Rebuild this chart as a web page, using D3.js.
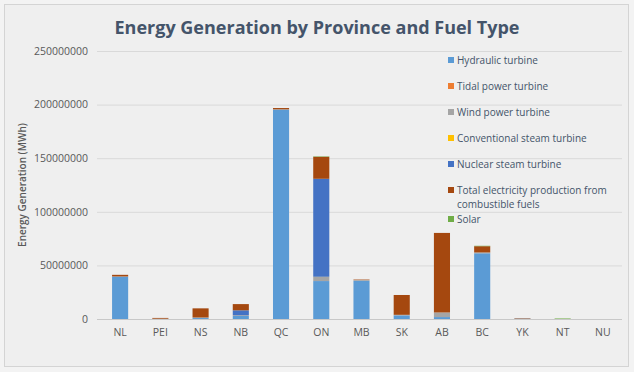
<!DOCTYPE html>
<meta charset="utf-8">
<style>
body { margin: 0; background: #f3f3f3; }
text { font-family: "Open Sans", sans-serif; }
.grid line { stroke: #d9d9d9; }
</style>
<body>
<script src="https://d3js.org/d3.v7.min.js"></script>
<script>
// provinces along the x axis
var provinces = ["NL", "PEI", "NS", "NB", "QC", "ON", "MB", "SK", "AB", "BC", "YK", "NT", "NU"];

// values in MWh
var hydraulic    = [39500000, 0, 900000, 2800000, 195300000, 35400000, 35600000, 3400000, 1800000, 61300000, 350000, 0, 0];
var tidal        = [0, 0, 30000, 0, 0, 0, 0, 0, 0, 0, 0, 0, 0];
var wind         = [200000, 300000, 500000, 700000, 300000, 3800000, 800000, 500000, 4300000, 800000, 0, 0, 0];
var conventional = [0, 0, 0, 0, 0, 200000, 0, 0, 0, 0, 0, 0, 0];
var nuclear      = [0, 0, 0, 4600000, 0, 91400000, 0, 0, 0, 0, 0, 0, 0];
var combustible  = [1500000, 700000, 8500000, 5800000, 1200000, 20500000, 400000, 18500000, 74200000, 5800000, 400000, 0, 0];
var solar        = [0, 0, 0, 0, 0, 400000, 0, 0, 0, 400000, 0, 500000, 0];

var yTicks = [0, 50000000, 100000000, 150000000, 200000000, 250000000];

var series = [
  {key: "Hydraulic turbine", values: hydraulic, color: "#5b9bd5"},
  {key: "Tidal power turbine", values: tidal, color: "#ed7d31"},
  {key: "Wind power turbine", values: wind, color: "#a5a5a5"},
  {key: "Conventional steam turbine", values: conventional, color: "#ffc000"},
  {key: "Nuclear steam turbine", values: nuclear, color: "#4472c4"},
  {key: "Total electricity production from combustible fuels", values: combustible, color: "#a5480f"},
  {key: "Solar", values: solar, color: "#70ad47"}
];

var width = 634, height = 372;

var svg = d3.select("body").append("svg")
    .attr("width", width)
    .attr("height", height);

// chart frame
svg.append("rect")
    .attr("x", 4.5).attr("y", 4.5)
    .attr("width", 624).attr("height", 362)
    .attr("fill", "#efefef")
    .attr("stroke", "#d4d4d4");

var x = d3.scaleBand()
    .domain(provinces)
    .range([100, 623])
    .paddingInner(0.6)
    .paddingOuter(0.3);

var y = d3.scaleLinear()
    .domain([0, 250000000])
    .range([319, 51]);

// rows for the stack
var table = provinces.map(function(p, i) {
  var row = {province: p};
  series.forEach(function(s) { row[s.key] = s.values[i]; });
  return row;
});

var stacked = d3.stack().keys(series.map(function(s) { return s.key; }))(table);

// gridlines + y labels
var yAxis = svg.append("g")
    .attr("class", "grid")
    .attr("transform", "translate(97,0)")
    .call(d3.axisLeft(y).tickValues(yTicks).tickSize(-525).tickPadding(9).tickFormat(d3.format("d")));
yAxis.select(".domain").remove();
yAxis.selectAll("text")
    .attr("fill", "#595959")
    .style("font-size", "10.5px");

// bars
svg.append("g").selectAll("g")
    .data(stacked)
  .enter().append("g")
    .attr("fill", function(d, i) { return series[i].color; })
  .selectAll("rect")
    .data(function(d) { return d; })
  .enter().append("rect")
    .attr("x", function(d) { return x(d.data.province); })
    .attr("width", x.bandwidth())
    .attr("y", function(d) { return y(d[1]); })
    .attr("height", function(d) { return y(d[0]) - y(d[1]); });

// x axis
var xAxis = svg.append("g")
    .attr("transform", "translate(0,319)")
    .call(d3.axisBottom(x).tickSize(0).tickPadding(10));
xAxis.select(".domain")
    .attr("d", "M97,0.5H622")
    .attr("stroke", "#c8c8c8");
xAxis.selectAll("text")
    .attr("fill", "#595959")
    .style("font-size", "10.5px");

// title
svg.append("text")
    .attr("x", 317)
    .attr("y", 34)
    .attr("text-anchor", "middle")
    .attr("fill", "#44546a")
    .style("font-size", "18px")
    .style("font-weight", "bold")
    .text("Energy Generation by Province and Fuel Type");

// y axis title
svg.append("text")
    .attr("transform", "translate(26,185) rotate(-90)")
    .attr("text-anchor", "middle")
    .attr("fill", "#595959")
    .style("font-size", "10px")
    .style("font-weight", "600")
    .text("Energy Generation (MWh)");

// legend
var legendY = [60, 86, 112, 138, 164, 190, 219];
var legend = svg.append("g").selectAll("g")
    .data(series)
  .enter().append("g")
    .attr("transform", function(d, i) { return "translate(448," + legendY[i] + ")"; });

legend.append("rect")
    .attr("x", 0).attr("y", -3)
    .attr("width", 6).attr("height", 6)
    .attr("fill", function(d) { return d.color; });

legend.append("text")
    .attr("x", 9)
    .attr("dy", "0.35em")
    .attr("fill", "#44546a")
    .style("font-size", "10px")
    .each(function(d) {
      var t = d3.select(this);
      if (d.key.indexOf("combustible") > 0) {
        t.append("tspan").attr("x", 9).text("Total electricity production from");
        t.append("tspan").attr("x", 9).attr("dy", "14px").text("combustible fuels");
      } else {
        t.text(d.key);
      }
    });
</script>
</body>
